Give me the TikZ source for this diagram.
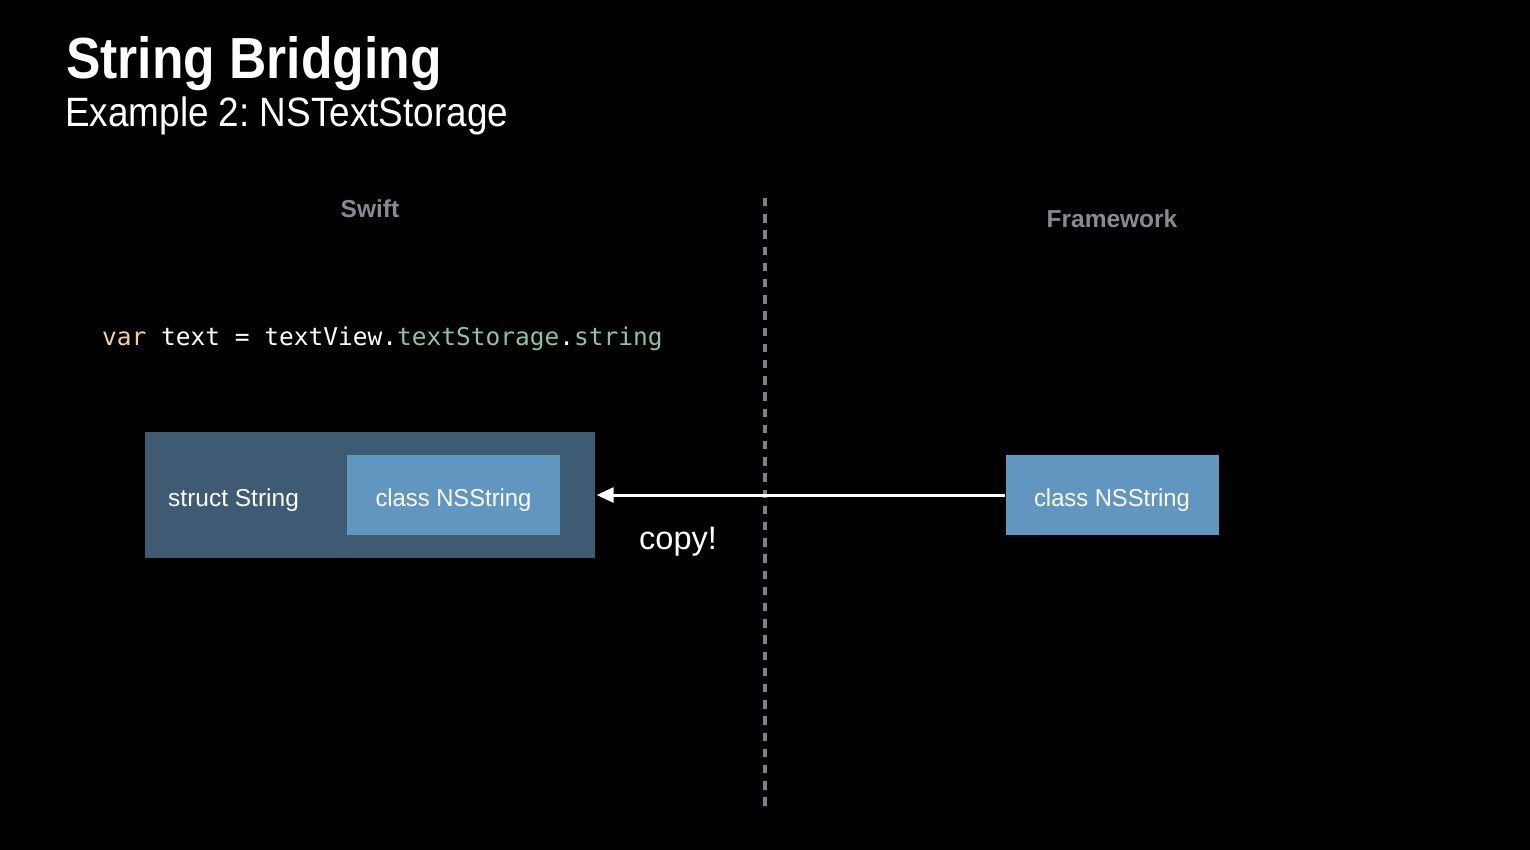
\documentclass[tikz,border=0pt]{standalone}
\usepackage{fontspec}
\usepackage{graphicx}
\setmainfont{Liberation Sans}
\newfontfamily\codefont{DejaVu Sans Mono}
\usetikzlibrary{arrows.meta}
\frenchspacing
\definecolor{outerblue}{HTML}{3E5B73}
\definecolor{innerblue}{HTML}{6096BF}
\definecolor{headgray}{HTML}{858B94}
\definecolor{dashgray}{HTML}{7A818A}
\definecolor{kwyellow}{HTML}{F5D38A}
\definecolor{propgreen}{HTML}{8FC2A0}
\tikzset{
  px/.style={x=1pt,y=-1pt},
  colhead/.style={text=headgray,font=\bfseries\fontsize{24.5}{28}\selectfont,inner sep=0pt,anchor=base},
  boxtext/.style={text=white,font=\fontsize{24.5}{28}\selectfont},
  innerbox/.style={fill=innerblue,draw=none,minimum width=213pt,minimum height=80pt,inner sep=0pt,text height=22pt,text depth=0pt,boxtext},
  outerbox/.style={fill=outerblue,draw=none,minimum width=450pt,minimum height=126pt,inner sep=0pt},
}
\begin{document}
\begin{tikzpicture}[px]
\fill[black] (0,0) rectangle (1530,850);
\useasboundingbox (0,0) rectangle (1530,850);
% titles
\node[anchor=base west,inner sep=0pt,text=white,font=\bfseries\fontsize{58}{62}\selectfont] (title) at (66,79) {\scalebox{0.89}[1]{String Bridging}};
\node[anchor=base west,inner sep=0pt,text=white,font=\fontsize{41}{46}\selectfont] (subtitle) at (65,127) {\scalebox{0.9}[1]{Example 2: NSTextStorage}};
% column heads
\node[colhead] (swift) at (370,218) {Swift};
\node[colhead] (framework) at (1112,228) {Framework};
% divider
\coordinate (dtop) at (765,198);
\coordinate (dbot) at (765,806);
\draw[dashgray,line width=3.5pt,dash pattern=on 8.4pt off 7.8pt] (dtop) -- (dbot);
% code
\node[anchor=base west,inner sep=0pt,text=white,font=\codefont\fontsize{24.5}{28}\selectfont] (code) at (102,345)
  {\textcolor{kwyellow}{var} text = textView.\textcolor{propgreen}{textStorage}.\textcolor{propgreen}{string}};
% boxes
\node[outerbox] (outer) at (370,495) {};
\node[anchor=base west,boxtext,inner sep=0pt] (struct) at (168,506) {struct String};
\node[innerbox] (inner) at (453.5,495) {\scalebox{0.97}[1]{class NSString}};
\node[innerbox] (right) at (1112,495) {\scalebox{0.97}[1]{class NSString}};
% arrow
\draw[white,line width=3pt,-{Triangle[length=17pt,width=15pt]}] (right.west) -- ([xshift=1.5pt]outer.east);
\node[anchor=base west,inner sep=0pt,text=white,font=\fontsize{32.5}{36}\selectfont] (copy) at (639,549) {copy!};
\end{tikzpicture}
\end{document}
